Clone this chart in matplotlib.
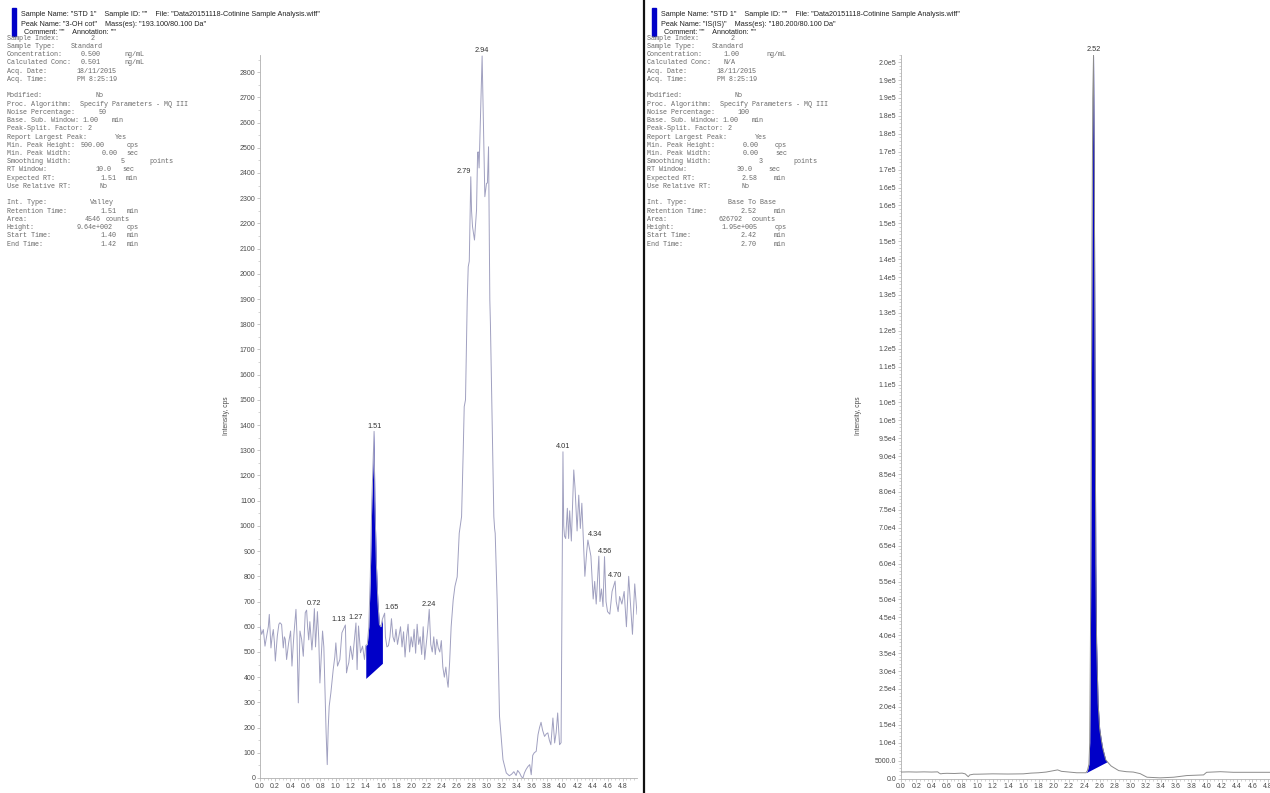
import numpy as np
import matplotlib
matplotlib.use("Agg")
import matplotlib.pyplot as plt
from matplotlib.ticker import MultipleLocator, FuncFormatter

W, H = 1270, 793

# ---- 3-OH cotinine trace (time in min, intensity in cps)
cot_time = [
    0.000, 0.022, 0.044, 0.066, 0.088, 0.110, 0.123, 0.145, 0.160, 0.176,
    0.190, 0.203, 0.229, 0.250, 0.264, 0.286, 0.308, 0.322, 0.335, 0.352,
    0.379, 0.405, 0.423, 0.449, 0.476, 0.490, 0.507, 0.529, 0.551, 0.573,
    0.599, 0.617, 0.630, 0.645, 0.660, 0.687, 0.700, 0.720, 0.735, 0.760,
    0.778, 0.793, 0.810, 0.828, 0.845, 0.860, 0.875, 0.890, 0.903, 0.916,
    0.938, 0.969, 0.990, 1.004, 1.026, 1.057, 1.084, 1.130, 1.145, 1.160,
    1.175, 1.198, 1.225, 1.270, 1.285, 1.304, 1.330, 1.357, 1.383, 1.400,
    1.420, 1.440, 1.460, 1.480, 1.510, 1.520, 1.540, 1.560, 1.580, 1.600,
    1.620, 1.650, 1.660, 1.680, 1.700, 1.720, 1.740, 1.760, 1.780, 1.800,
    1.820, 1.840, 1.860, 1.880, 1.900, 1.920, 1.940, 1.960, 1.980, 2.000,
    2.020, 2.040, 2.060, 2.080, 2.100, 2.120, 2.140, 2.160, 2.180, 2.200,
    2.220, 2.240, 2.260, 2.280, 2.300, 2.320, 2.340, 2.360, 2.380, 2.400,
    2.420, 2.440, 2.460, 2.480, 2.490, 2.510, 2.530, 2.557, 2.580, 2.610,
    2.637, 2.668, 2.690, 2.703, 2.720, 2.743, 2.756, 2.770, 2.790, 2.800,
    2.813, 2.839, 2.866, 2.880, 2.888, 2.900, 2.940, 2.976, 2.998, 3.010,
    3.025, 3.042, 3.050, 3.095, 3.105, 3.113, 3.139, 3.170, 3.216, 3.260,
    3.300, 3.330, 3.360, 3.390, 3.410, 3.436, 3.460, 3.480, 3.500, 3.520,
    3.545, 3.570, 3.590, 3.610, 3.630, 3.656, 3.680, 3.700, 3.720, 3.740,
    3.766, 3.790, 3.810, 3.830, 3.850, 3.877, 3.900, 3.920, 3.940, 3.965,
    3.985, 4.010, 4.020, 4.030, 4.046, 4.068, 4.085, 4.099, 4.121, 4.153,
    4.170, 4.197, 4.219, 4.240, 4.260, 4.300, 4.325, 4.340, 4.380, 4.410,
    4.430, 4.450, 4.485, 4.500, 4.520, 4.540, 4.560, 4.580, 4.600, 4.630,
    4.660, 4.700, 4.715, 4.740, 4.760, 4.790, 4.820, 4.850, 4.880, 4.930,
    4.960, 4.990,
]
cot_cps = [
    603, 570, 589, 523, 563, 600, 649, 516, 560, 589,
    540, 464, 563, 610, 616, 609, 516, 560, 550, 470,
    536, 583, 444, 570, 669, 560, 298, 583, 550, 483,
    656, 666, 600, 548, 620, 508, 560, 672, 520, 660,
    550, 377, 480, 583, 520, 350, 180, 53, 200, 285,
    338, 430, 480, 536, 444, 470, 576, 607, 417, 440,
    457, 523, 470, 615, 430, 603, 497, 523, 470, 526,
    530, 600, 800, 1100, 1375, 1100, 850, 700, 610, 600,
    630, 654, 560, 520, 525, 560, 632, 560, 540, 590,
    530, 565, 600, 520, 580, 480, 560, 610, 500, 560,
    520, 590, 495, 610, 530, 560, 490, 600, 470, 530,
    590, 669, 530, 500, 560, 490, 550, 515, 500, 545,
    440, 400, 440, 380, 360, 460, 600, 706, 760, 798,
    971, 1037, 1300, 1473, 1500, 1896, 2028, 2050, 2385, 2250,
    2187, 2134, 2253, 2480, 2484, 2420, 2864, 2306, 2359, 2360,
    2504, 1896, 1800, 1037, 990, 971, 706, 245, 73, 20,
    9, 15, 25, 10, 30, 20, 5, 0, 20, 33,
    45, 53, 13, 90, 100, 106, 172, 200, 221, 190,
    165, 175, 179, 150, 132, 238, 139, 180, 258, 132,
    140, 1294, 1000, 960, 950, 1070, 950, 1060, 940, 1222,
    1150, 980, 1122, 990, 1090, 800, 900, 944, 880, 710,
    780, 690, 880, 700, 750, 680, 878, 700, 660, 650,
    740, 781, 700, 660, 720, 690, 740, 600, 800, 570,
    770, 650,
]
cot_peaks = [0.72, 1.13, 1.27, 1.51, 1.65, 2.24, 2.79, 2.94, 4.01, 4.34, 4.56, 4.70]
cot_peak_align = ["center", "right", "center", "center", "left", "center",
                  "right", "center", "center", "left", "center", "center"]
cot_window = (1.40, 1.62)
cot_baseline = (395, 455)

# ---- internal standard trace
is_time = [
    0.00, 0.10, 0.20, 0.30, 0.40, 0.48, 0.50, 0.52, 0.55, 0.60,
    0.70, 0.80, 0.84, 0.86, 0.88, 0.90, 0.95, 1.00, 1.20, 1.40,
    1.60, 1.70, 1.80, 1.90, 2.00, 2.05, 2.10, 2.20, 2.30, 2.42,
    2.44, 2.46, 2.47, 2.48, 2.49, 2.50, 2.51, 2.52, 2.53, 2.54,
    2.55, 2.56, 2.58, 2.60, 2.62, 2.64, 2.66, 2.68, 2.70, 2.72,
    2.75, 2.78, 2.85, 2.95, 3.04, 3.13, 3.22, 3.39, 3.57, 3.74,
    3.96, 4.00, 4.18, 4.35, 4.57, 4.83, 5.00,
]
is_cps = [
    1800, 1850, 1800, 1850, 1800, 1850, 1500, 1300, 1400, 1450,
    1400, 1500, 1300, 900, 500, 1000, 1200, 1200, 1300, 1250,
    1300, 1500, 1600, 1800, 2200, 2400, 2000, 1800, 1600, 1600,
    2200, 4000, 10000, 40000, 90000, 150000, 190000, 202000, 170000, 110000,
    60000, 38000, 21000, 14000, 11000, 8500, 6800, 5200, 4700, 4200,
    3500, 3100, 2200, 1900, 1800, 1360, 360, 180, 360, 820,
    1000, 1730, 1900, 1730, 1730, 1730, 1730,
]
is_peaks = [2.52]
is_window = (2.42, 2.70)
is_baseline = (1600, 4700)

# ---- sample information blocks
header_left = ['Sample Name: "STD 1"    Sample ID: ""    File: "Data20151118-Cotinine Sample Analysis.wiff"',
               'Peak Name: "3-OH cot"    Mass(es): "193.100/80.100 Da"',
               'Comment: ""    Annotation: ""']
header_right = ['Sample Name: "STD 1"    Sample ID: ""    File: "Data20151118-Cotinine Sample Analysis.wiff"',
                'Peak Name: "IS(IS)"    Mass(es): "180.200/80.100 Da"',
                'Comment: ""    Annotation: ""']

info_left = [
    ("Sample Index:", "2", 90.7, "", 0), ("Sample Type:", "Standard", 71, "", 0),
    ("Concentration:", "0.500", 80.3, "ng/mL", 124.7), ("Calculated Conc:", "0.501", 80.3, "ng/mL", 124.7),
    ("Acq. Date:", "18/11/2015", 76.7, "", 0), ("Acq. Time:", "PM 8:25:19", 76.7, "", 0),
    None,
    ("Modified:", "No", 95, "", 0), ("Proc. Algorithm:", "Specify Parameters - MQ III", 80, "", 0),
    ("Noise Percentage:", "50", 99, "", 0), ("Base. Sub. Window:", "1.00", 82, "min", 112),
    ("Peak-Split. Factor:", "2", 88, "", 0), ("Report Largest Peak:", "Yes", 115, "", 0),
    ("Min. Peak Height:", "500.00", 81, "cps", 126.7), ("Min. Peak Width:", "0.00", 102, "sec", 126.7),
    ("Smoothing Width:", "5", 120.7, "points", 149), ("RT Window:", "10.0", 95, "sec", 122),
    ("Expected RT:", "1.51", 100, "min", 125.7), ("Use Relative RT:", "No", 99, "", 0),
    None,
    ("Int. Type:", "Valley", 90, "", 0), ("Retention Time:", "1.51", 100, "min", 126.7),
    ("Area:", "4546", 85, "counts", 106), ("Height:", "9.64e+002", 76.7, "cps", 126.7),
    ("Start Time:", "1.40", 100, "min", 126.7), ("End Time:", "1.42", 100, "min", 126.7),
]
info_right = [
    ("Sample Index:", "2", 90.7, "", 0), ("Sample Type:", "Standard", 71.7, "", 0),
    ("Concentration:", "1.00", 83.7, "ng/mL", 126), ("Calculated Conc:", "N/A", 83.7, "", 0),
    ("Acq. Date:", "18/11/2015", 76.7, "", 0), ("Acq. Time:", "PM 8:25:19", 76.7, "", 0),
    None,
    ("Modified:", "No", 94.3, "", 0), ("Proc. Algorithm:", "Specify Parameters - MQ III", 80, "", 0),
    ("Noise Percentage:", "100", 97.3, "", 0), ("Base. Sub. Window:", "1.00", 82.7, "min", 111.7),
    ("Peak-Split. Factor:", "2", 88, "", 0), ("Report Largest Peak:", "Yes", 115, "", 0),
    ("Min. Peak Height:", "0.00", 102.3, "cps", 135), ("Min. Peak Width:", "0.00", 102.3, "sec", 135),
    ("Smoothing Width:", "3", 118.3, "points", 153.3), ("RT Window:", "30.0", 96.7, "sec", 128.3),
    ("Expected RT:", "2.58", 101.7, "min", 133.3), ("Use Relative RT:", "No", 101.7, "", 0),
    None,
    ("Int. Type:", "Base To Base", 87.7, "", 0), ("Retention Time:", "2.52", 100.7, "min", 133.3),
    ("Area:", "626792", 78.3, "counts", 111.7), ("Height:", "1.95e+005", 81.7, "cps", 135),
    ("Start Time:", "2.42", 100.7, "min", 133.3), ("End Time:", "2.70", 100.7, "min", 133.3),
]

SANS = "Liberation Sans"
MONO = "Liberation Mono"
TICK_C = "#4a4a4a"
AXIS_C = "#b0b0b0"
INFO_C = "#6a6a6a"
FILL_C = "#0000c8"

fig = plt.figure(figsize=(W / 100, H / 100), dpi=100)


def fx(x):
    return x / W


def fy(y):
    return 1 - y / H


def sci_trunc(v, pos=None):
    # Analyst style labels: mantissa truncated to one decimal
    if v < 1e4:
        return f"{v:.1f}"
    e = int(np.floor(np.log10(v)))
    m = np.floor(v / 10 ** e * 10 + 1e-9) / 10
    return f"{m:.1f}e{e}"


def draw_info(x0, header, rows):
    fig.patches.append(plt.Rectangle((fx(x0 + 5.6), fy(36)), 3.4 / W, 28 / H,
                                     transform=fig.transFigure, color=FILL_C))
    for i, line in enumerate(header):
        xo = x0 + (17.3 if i == 2 else 14)
        fig.text(fx(xo), fy(15 + 9 * i), line, fontsize=5.2, family=SANS,
                 color="#222222", va="center", ha="left")
    kw = dict(fontsize=4.9, family=MONO, color=INFO_C, va="center", ha="left")
    for i, row in enumerate(rows):
        if row is None:
            continue
        label, value, vx, unit, ux = row
        y = fy(38.3 + 8.23 * i)
        fig.text(fx(x0), y, label, **kw)
        fig.text(fx(x0 + vx - 6.7), y, value, **kw)
        if unit:
            fig.text(fx(x0 + ux - 6.7), y, unit, **kw)


def style_axes(ax, xmax, ymajor, yminor):
    for s in ("top", "right"):
        ax.spines[s].set_visible(False)
    for s in ("left", "bottom"):
        ax.spines[s].set_color(AXIS_C)
        ax.spines[s].set_linewidth(0.6)
    ax.set_xlim(0, xmax)
    ax.xaxis.set_major_locator(MultipleLocator(0.2))
    ax.xaxis.set_minor_locator(MultipleLocator(0.05))
    ax.xaxis.set_major_formatter(FuncFormatter(lambda v, p: f"{v:.1f}"))
    ax.yaxis.set_major_locator(MultipleLocator(ymajor))
    ax.yaxis.set_minor_locator(MultipleLocator(yminor))
    ax.tick_params(which="major", length=2.2, width=0.5, color=AXIS_C, pad=1.2,
                   labelsize=5.0, labelcolor=TICK_C)
    ax.tick_params(which="minor", length=1.2, width=0.4, color=AXIS_C)
    ax.patch.set_alpha(0)


def draw_trace(ax, t, v, color, window, base, peaks, aligns):
    t = np.asarray(t, float)
    v = np.asarray(v, float)
    m = (t >= window[0] - 1e-9) & (t <= window[1] + 1e-9)
    bl = np.interp(t[m], window, base)
    ax.fill_between(t[m], bl, v[m], color=FILL_C, lw=0, zorder=2)
    ax.plot(t, v, color=color, lw=0.7, zorder=3)
    for pk, al in zip(peaks, aligns):
        h = np.interp(pk, t, v)
        ax.annotate(f"{pk:.2f}", (pk, h), xytext=(0, 1.2), textcoords="offset points",
                    ha=al, va="bottom", fontsize=5.3, family=SANS, color="#333333",
                    annotation_clip=False)


# ---- left panel
draw_info(6.7, header_left, info_left)
ax1 = fig.add_axes([fx(260), fy(778), 377 / W, 723 / H])
style_axes(ax1, 4.99, 100, 50)
ax1.set_ylim(0, 2868)
draw_trace(ax1, cot_time, cot_cps, "#a0a0c0", cot_window, cot_baseline, cot_peaks, cot_peak_align)
for lab in ax1.get_xticklabels() + ax1.get_yticklabels():
    lab.set_family(SANS)
fig.text(fx(226), fy(416), "Intensity, cps", rotation=90, fontsize=4.8, family=SANS,
         color=TICK_C, ha="center", va="center")
fig.text(fx(449), fy(797), "Time, min", fontsize=4.8, family=SANS, color=TICK_C,
         ha="center", va="center")

# ---- right panel
draw_info(646.7, header_right, info_right)
ax2 = fig.add_axes([fx(901), fy(778.5), 382 / W, 723.5 / H])
style_axes(ax2, 5.0, 5000, 1000)
ax2.set_ylim(0, 2.02e5)
ax2.yaxis.set_major_formatter(FuncFormatter(sci_trunc))
draw_trace(ax2, is_time, is_cps, "#8c8c8c", is_window, is_baseline, is_peaks, ["center"])
for lab in ax2.get_xticklabels() + ax2.get_yticklabels():
    lab.set_family(SANS)
fig.text(fx(859), fy(416), "Intensity, cps", rotation=90, fontsize=4.8, family=SANS,
         color=TICK_C, ha="center", va="center")
fig.text(fx(1092), fy(797), "Time, min", fontsize=4.8, family=SANS, color=TICK_C,
         ha="center", va="center")

# panel divider
fig.add_artist(plt.Line2D([fx(643.5), fx(643.5)], [0, 1], transform=fig.transFigure,
                          color="#111111", lw=1.6))

fig.savefig("out.png", dpi=100)
